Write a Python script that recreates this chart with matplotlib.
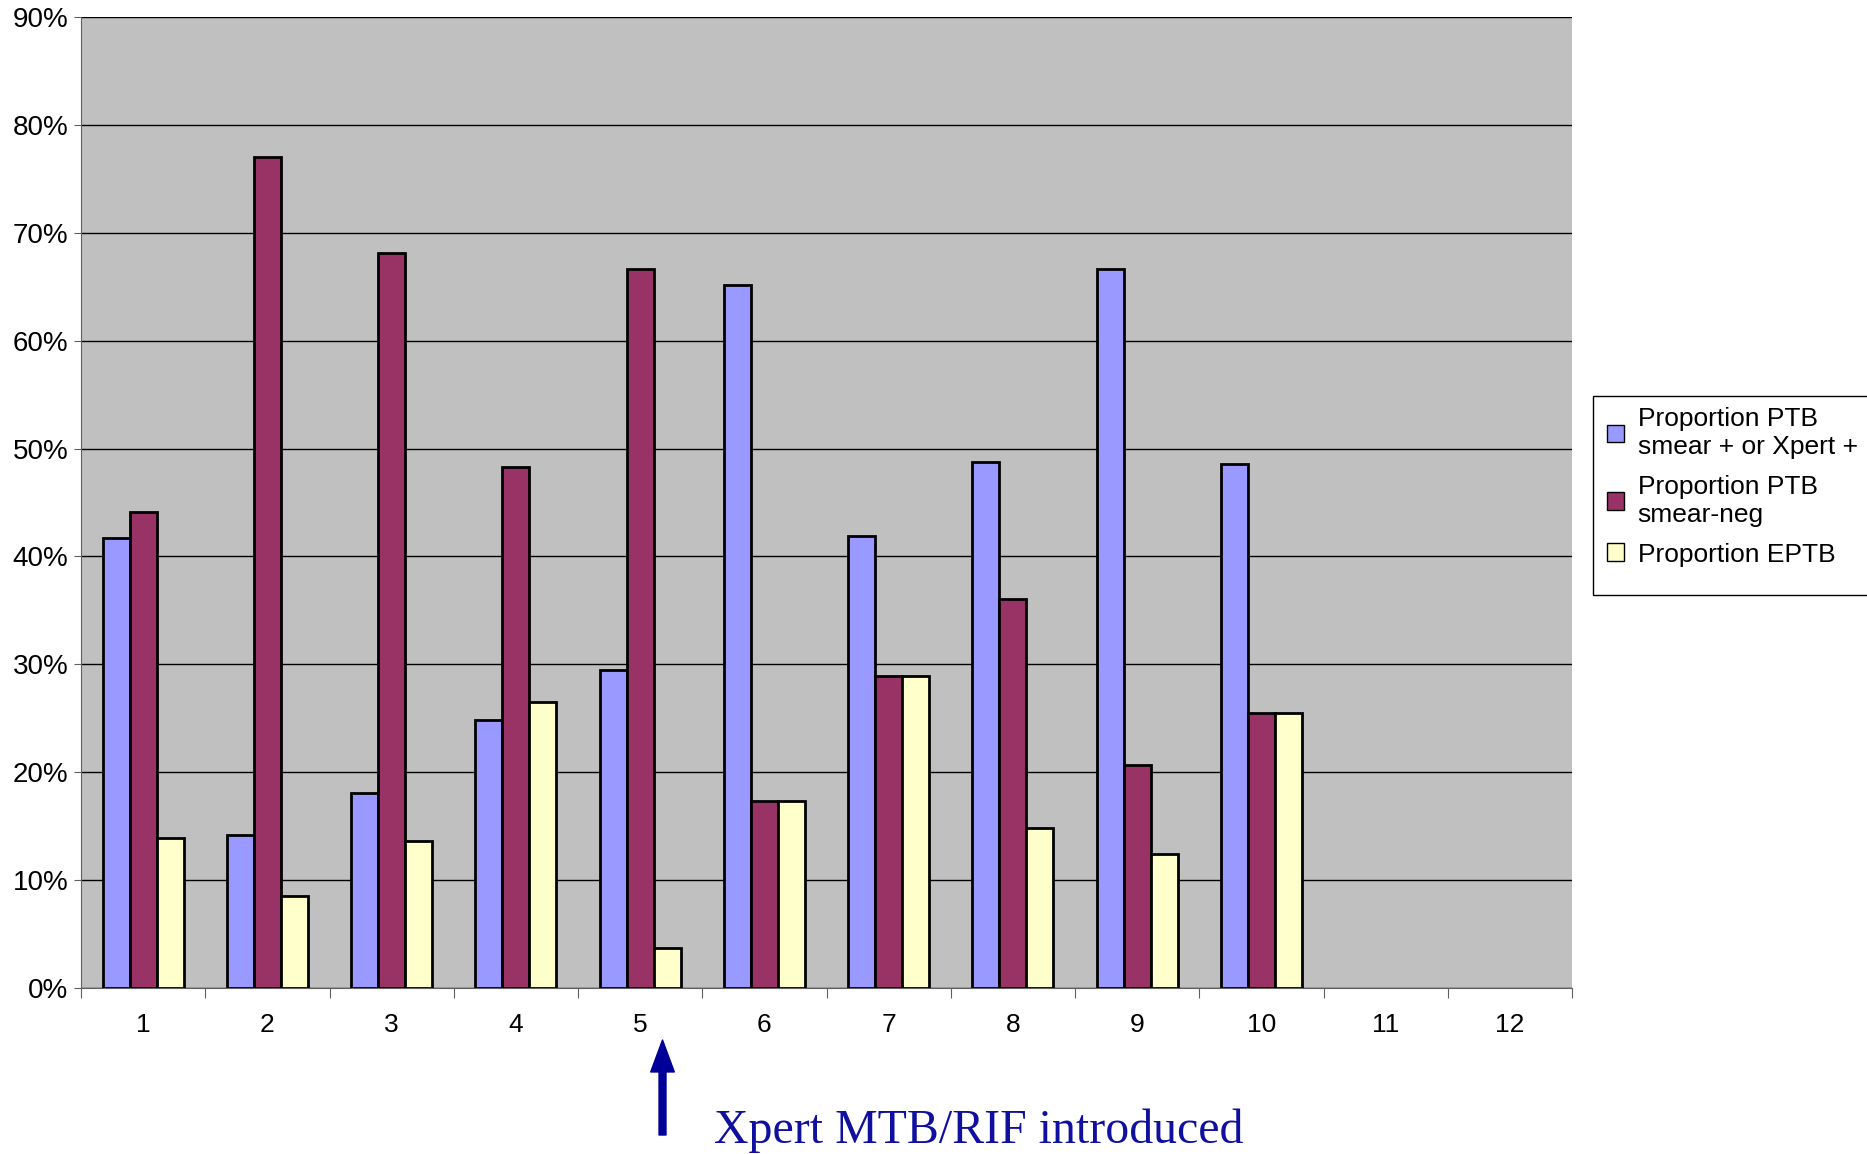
import matplotlib.pyplot as plt
import numpy as np
from matplotlib.patches import Rectangle

plt.rcParams["font.family"] = ["Liberation Sans", "DejaVu Sans"]

# Data (proportions in %)
months = [str(i) for i in range(1, 13)]
smear_or_xpert = [41.7, 14.2, 18.1, 24.8, 29.5, 65.2, 41.9, 48.8, 66.6, 48.6]
smear_neg = [44.1, 77.0, 68.1, 48.3, 66.6, 17.3, 28.9, 36.1, 20.7, 25.5]
eptb = [13.9, 8.5, 13.6, 26.5, 3.7, 17.3, 28.9, 14.8, 12.4, 25.5]

series_labels = [
    "Proportion PTB\nsmear + or Xpert +",
    "Proportion PTB\nsmear-neg",
    "Proportion EPTB",
]
colors = ["#9999FF", "#993366", "#FFFFCC"]

W, H = 1867, 1154
fig = plt.figure(figsize=(W / 100, H / 100), dpi=100)
ax = fig.add_axes([0.0434, 0.1438, 0.7986, 0.8415])
ax.set_facecolor("#C0C0C0")

x = np.arange(1, len(smear_or_xpert) + 1)
bw = 0.217
for k, (vals, lab, col) in enumerate(zip([smear_or_xpert, smear_neg, eptb], series_labels, colors)):
    ax.bar(x + (k - 1) * bw, vals, width=bw, color=col, edgecolor="black",
           linewidth=2.0, label=lab, zorder=3)

ax.set_xlim(0.5, 12.5)
ax.set_ylim(0, 90)
ax.set_yticks(np.arange(0, 91, 10))
ax.set_yticklabels([f"{v}%" for v in range(0, 91, 10)], fontsize=20)
ax.yaxis.grid(True, color="black", linewidth=1.0, zorder=1)
ax.set_axisbelow(True)

# category labels between the boundary ticks
ax.set_xticks(np.arange(0.5, 13, 1))
ax.set_xticklabels([])
ax.set_xticks(np.arange(1, 13), minor=True)
ax.set_xticklabels(months, minor=True, fontsize=19)
ax.tick_params(axis="x", which="minor", length=0, pad=18)
ax.tick_params(axis="x", which="major", length=7, color="#606060")
ax.tick_params(axis="y", length=5, color="#606060", pad=4)

for side in ["top", "right"]:
    ax.spines[side].set_visible(False)
ax.spines["left"].set_color("#606060")
ax.spines["bottom"].set_color("#606060")

# legend box (Excel style, runs off the right edge)
fig.patches.append(Rectangle((1593 / W, 1 - 595 / H), 300 / W, 199 / H,
                             transform=fig.transFigure, facecolor="white",
                             edgecolor="black", linewidth=1.0, zorder=0))
leg = fig.legend(loc="upper left", bbox_to_anchor=(1602 / W, 1 - 402 / H), fontsize=19,
                 frameon=False, handlelength=0.65, handleheight=0.65,
                 handletextpad=0.5, labelspacing=0.6, borderpad=0.2, borderaxespad=0)
for h in leg.legend_handles:
    h.set_linewidth(1.0)

# annotation below the axis
ax.annotate("", xy=(5.18, 1 - 1040 / H), xytext=(5.18, 1 - 1135 / H),
            xycoords=("data", "figure fraction"), textcoords=("data", "figure fraction"),
            arrowprops=dict(facecolor="#000099", edgecolor="#000099", width=5,
                            headwidth=17, headlength=23, shrink=0),
            annotation_clip=False)
fig.text(714 / W, 1 - 1143 / H, "Xpert MTB/RIF introduced",
         fontsize=34.5, color="#1010A0", family=["Liberation Serif", "DejaVu Serif"],
         va="baseline", ha="left")

fig.savefig("out.png", dpi=100)
